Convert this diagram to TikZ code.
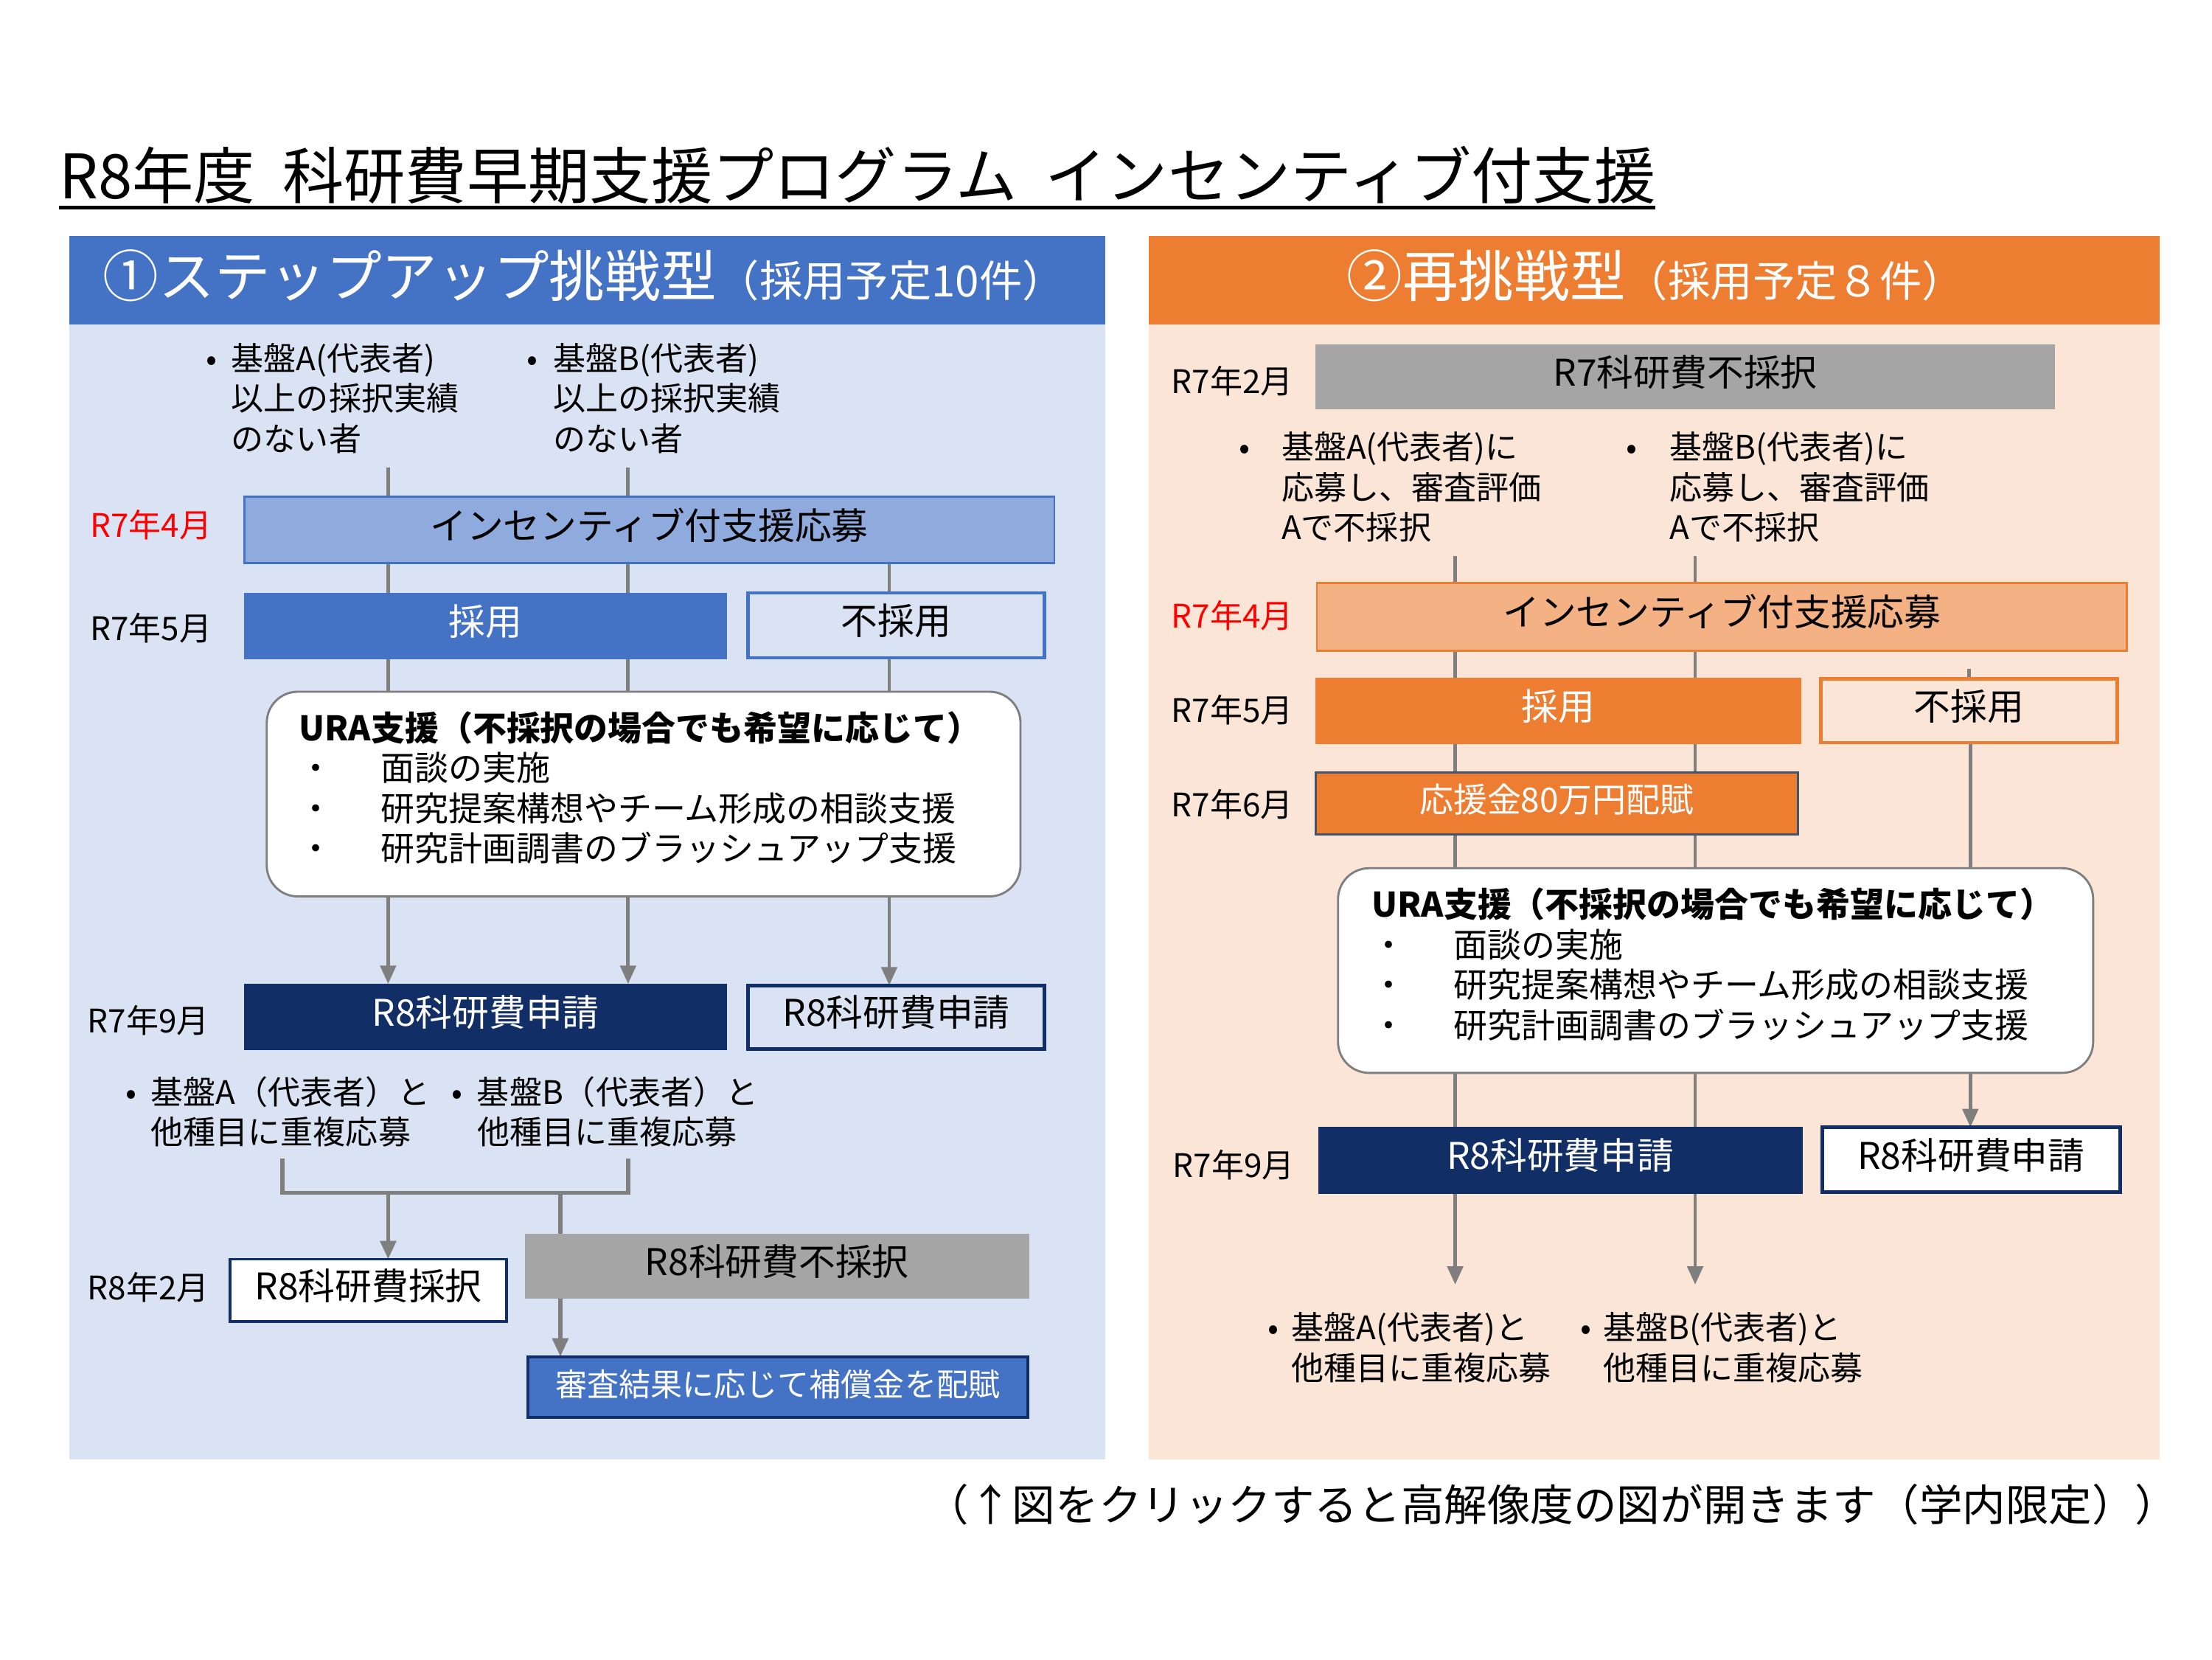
\documentclass[tikz,border=0pt]{standalone}
\usepackage{fontspec}
\setmainfont{Noto Sans CJK JP}
\usetikzlibrary{arrows.meta}

\definecolor{accblue}{HTML}{4472C4}
\definecolor{lblue}{HTML}{DAE3F3}
\definecolor{midblue}{HTML}{8FAADC}
\definecolor{navy}{HTML}{112E67}
\definecolor{accorange}{HTML}{ED7D31}
\definecolor{lorange}{HTML}{FBE5D6}
\definecolor{midorange}{HTML}{F4B183}
\definecolor{boxgray}{HTML}{A5A5A5}
\definecolor{linegray}{HTML}{7F7F7F}
\definecolor{slate}{HTML}{44546A}

\newcommand\fs[2]{\fontsize{#1bp}{#2bp}\selectfont}
\newcommand\bul[1]{\makebox[#1bp][l]{•}}
\newcommand\ind[1]{\hspace*{#1bp}}
\newcommand\dotitem{\makebox[58bp][l]{・}}
\newcommand\lift{\rule[-11bp]{0pt}{11bp}}

\pgfdeclarelayer{bg}
\pgfdeclarelayer{lines}
\pgfsetlayers{bg,lines,main}

\begin{document}
\begin{tikzpicture}[x=1bp, y=-1bp,
    every node/.style={inner sep=0pt, outer sep=0pt},
    wh/.style 2 args={minimum width=#1bp, minimum height=#2bp, text height=23bp, text depth=10bp},
    mon/.style={anchor=west, font=\fs{23}{28}},
    note/.style={anchor=west, align=left, font=\fs{23}{28.5}},
    head/.style={text=white},
    fillbox/.style={fill=#1, text=white, font=\fs{26}{30}},
    linebox/.style={draw=#1, line width=2.5bp, font=\fs{26}{30}},
    ura/.style={draw=linegray, line width=1.5bp, fill=white, rounded corners=22bp,
        minimum height=145bp, align=left, font=\fs{24}{28.5}},
    conn/.style={draw=linegray, line width=2.5bp},
    arr/.style={conn, -{Triangle[width=11bp,length=13bp]}}]

    \useasboundingbox (0,0) rectangle (1567.2,1175.4);

    % title
    \node[anchor=base west, font=\fs{43.5}{50}] (title) at (42,141)
        {R8年度\hspace{0.45em}科研費早期支援プログラム\hspace{0.45em}インセンティブ付支援};
    \draw[line width=2.5bp] ([yshift=-6bp]title.base west) -- ([yshift=-6bp]title.base east);

    % panels
    \begin{pgfonlayer}{bg}
        \fill[white] (0,0) rectangle (1567.2,1175.4);
        \fill[lblue] (49,167) rectangle (783,1034);
        \fill[accblue] (49,167) rectangle (783,230);
        \fill[lorange] (814,167) rectangle (1530,1034);
        \fill[accorange] (814,167) rectangle (1530,230);
    \end{pgfonlayer}
    \node[head] (headL) at (414,195) {{\fs{39.5}{44}①ステップアップ挑戦型}{\fs{30.5}{34}（採用予定10件）}};
    \node[head] (headR) at (1173,195) {{\fs{39.5}{44}②再挑戦型}{\fs{30}{34}（採用予定８件）}};

    % left panel
    \node[note] (bulA) at (146,282) {\bul{18}基盤A(代表者)\\\ind{18}以上の採択実績\\\ind{18}のない者};
    \node[note] (bulB) at (373,282) {\bul{19}基盤B(代表者)\\\ind{19}以上の採択実績\\\ind{19}のない者};

    \node[mon, text=red] (monL1) at (64,372) {R7年4月};
    \node[mon] (monL2) at (64,445) {R7年5月};
    \node[mon] (monL3) at (62,723) {R7年9月};
    \node[mon] (monL4) at (62,912) {R8年2月};

    \node[wh={574}{47}, fill=midblue, draw=accblue, line width=1.5bp, font=\fs{26}{30}] (applyL) at (460,375.5) {インセンティブ付支援応募};
    \node[wh={342}{47}, fillbox=accblue] (adoptL) at (344,443.5) {採用};
    \node[wh={210}{46}, linebox=accblue, fill=lblue] (rejL) at (635,443) {不採用};
    \node[ura, text width=488bp, inner xsep=23bp] (uraL) at (456,562.5)
        {\textbf{URA支援（不採択の場合でも希望に応じて）}\\
         \dotitem 面談の実施\\
         \dotitem 研究提案構想やチーム形成の相談支援\\
         \dotitem 研究計画調書のブラッシュアップ支援\lift};
    \node[wh={342}{47}, fillbox=navy] (subL) at (344,720.5) {R8科研費申請};
    \node[wh={210}{45}, linebox=navy, fill=lblue] (subL2) at (635,720.5) {R8科研費申請};

    \node[note] (dupA) at (89,787.5) {\bul{18}基盤A（代表者）と\\\ind{18}他種目に重複応募};
    \node[note] (dupB) at (320,787.5) {\bul{18}基盤B（代表者）と\\\ind{18}他種目に重複応募};

    \node[wh={196}{44}, draw=navy, line width=2bp, fill=white, font=\fs{26}{30}] (granted) at (261,914) {R8科研費採択};
    \node[wh={357}{46}, fill=boxgray, font=\fs{26}{30}] (rej8) at (550.5,897) {R8科研費不採択};
    \node[wh={354}{43}, draw=navy, line width=2bp, fillbox=accblue, font=\fs{22.5}{26}] (comp) at (551,982.5) {審査結果に応じて補償金を配賦};

    % right panel
    \node[mon] (monR1) at (830,270) {R7年2月};
    \node[mon, text=red] (monR2) at (830,436) {R7年4月};
    \node[mon] (monR3) at (830,503) {R7年5月};
    \node[mon] (monR4) at (830,570) {R7年6月};
    \node[mon] (monR5) at (831,825) {R7年9月};

    \node[wh={524}{46}, fill=boxgray, font=\fs{26}{30}] (rej7) at (1194,267) {R7科研費不採択};
    \node[note] (bulRA) at (878,345) {\bul{30}基盤A(代表者)に\\\ind{30}応募し、審査評価\\\ind{30}Aで不採択};
    \node[note] (bulRB) at (1152,345) {\bul{31}基盤B(代表者)に\\\ind{31}応募し、審査評価\\\ind{31}Aで不採択};

    \node[wh={574}{48}, fill=midorange, draw=accorange, line width=1.5bp, font=\fs{26}{30}] (applyR) at (1220,437) {インセンティブ付支援応募};
    \node[wh={344}{47}, fillbox=accorange] (adoptR) at (1104,503.5) {採用};
    \node[wh={210}{45}, linebox=accorange, fill=lorange] (rejR) at (1395,503.5) {不採用};
    \node[wh={342}{44}, draw=slate, line width=1.5bp, fillbox=accorange, font=\fs{24}{28}] (fundR) at (1103,569) {応援金80万円配賦};
    \node[ura, text width=487bp, inner xsep=24bp] (uraR) at (1215.5,687.5)
        {\textbf{URA支援（不採択の場合でも希望に応じて）}\\
         \dotitem 面談の実施\\
         \dotitem 研究提案構想やチーム形成の相談支援\\
         \dotitem 研究計画調書のブラッシュアップ支援\lift};
    \node[wh={343}{48}, fillbox=navy] (subR) at (1105.5,822) {R8科研費申請};
    \node[wh={211}{46}, linebox=navy, fill=white] (subR2) at (1396.5,821.5) {R8科研費申請};

    \node[note] (dupRA) at (898,954.5) {\bul{17}基盤A(代表者)と\\\ind{17}他種目に重複応募};
    \node[note] (dupRB) at (1120,954.5) {\bul{16}基盤B(代表者)と\\\ind{16}他種目に重複応募};

    % footnote
    \node[anchor=west, font=\fs{30.6}{34}] (foot) at (656,1066) {（↑図をクリックすると高解像度の図が開きます（学内限定））};

    % columns
    \coordinate (colA) at (275,0);
    \coordinate (colB) at (445,0);
    \coordinate (colC) at (630,0);
    \coordinate (joinL) at (200,845);
    \coordinate (joinR) at (445,845);
    \coordinate (colD) at (397,0);
    \coordinate (colRA) at (1031,0);
    \coordinate (colRB) at (1201,0);
    \coordinate (colRC) at (1396,0);
    \coordinate (stubR) at (1395,474);
    \coordinate (endRA) at (1031,910);
    \coordinate (endRB) at (1201,910);

    % connectors
    \begin{pgfonlayer}{lines}
        \draw[conn] ([yshift=-10bp]bulA.south -| colA) -- (uraL.north -| colA);
        \draw[conn] ([yshift=-10bp]bulB.south -| colB) -- (uraL.north -| colB);
        \draw[conn] (applyL.south -| colC) -- (uraL.north -| colC);
        \draw[arr] (uraL.south -| colA) -- (subL.north -| colA);
        \draw[arr] (uraL.south -| colB) -- (subL.north -| colB);
        \draw[arr] (uraL.south -| colC) -- (subL2.north -| colC);
        \draw[conn, line width=3bp] ([yshift=-8bp]dupA.south -| joinL) -- (joinL) -- (joinR) -- ([yshift=-8bp]dupB.south -| joinR);
        \draw[arr, line width=3bp] (joinL -| colA) -- (granted.north -| colA);
        \draw[conn, line width=3bp] (joinL -| colD) -- (rej8.north -| colD);
        \draw[arr, line width=3bp] (rej8.south -| colD) -- (comp.north -| colD);

        \draw[conn] ([yshift=-10bp]bulRA.south -| colRA) -- (uraR.north -| colRA);
        \draw[conn] ([yshift=-10bp]bulRB.south -| colRB) -- (uraR.north -| colRB);
        \draw[conn] (stubR) -- (rejR.north -| stubR);
        \draw[conn] (rejR.south -| colRC) -- (uraR.north -| colRC);
        \draw[arr] (uraR.south -| colRC) -- (subR2.north -| colRC);
        \draw[arr] (uraR.south -| colRA) -- (endRA);
        \draw[arr] (uraR.south -| colRB) -- (endRB);
    \end{pgfonlayer}
\end{tikzpicture}
\end{document}
